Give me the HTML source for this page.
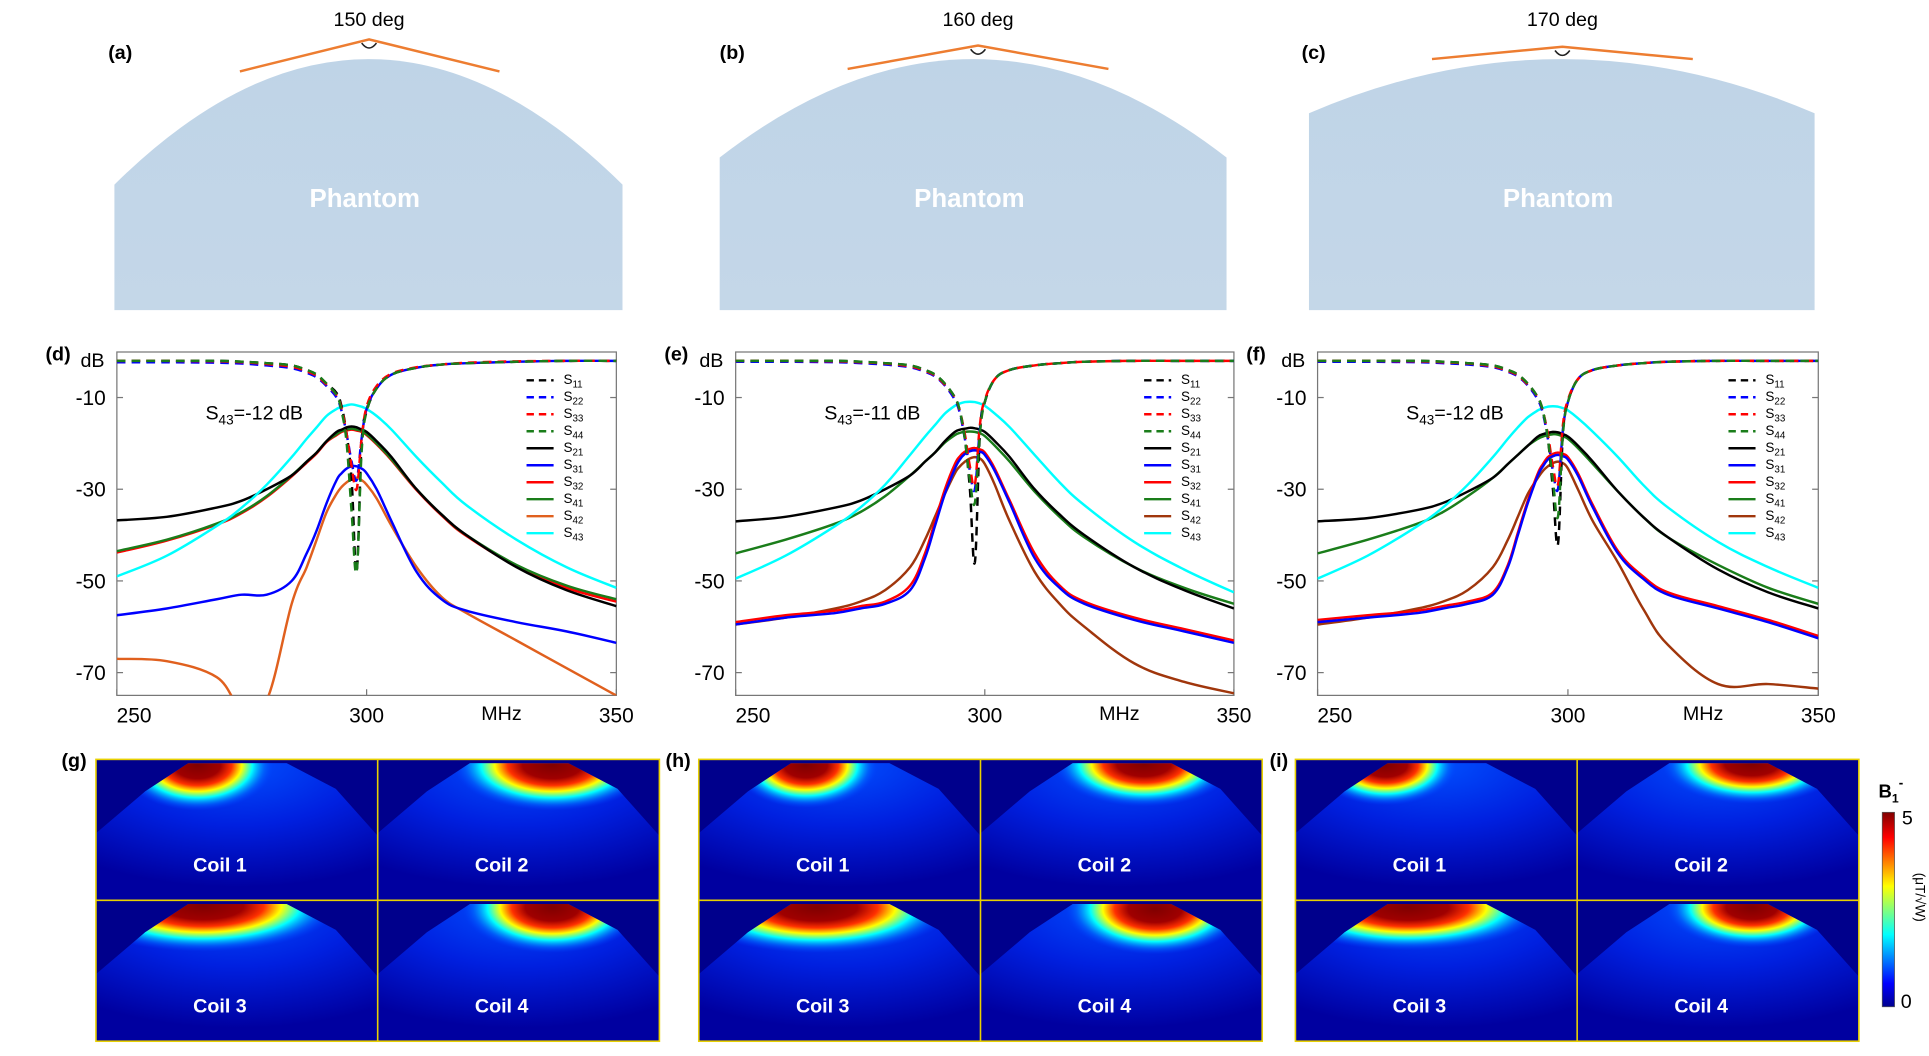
<!DOCTYPE html>
<html><head><meta charset="utf-8">
<style>
html,body{margin:0;padding:0;background:#fff;}
svg{display:block;font-family:"Liberation Sans",sans-serif;}
</style></head>
<body>
<svg id="fig" width="1929" height="1056" viewBox="0 0 1568 858" preserveAspectRatio="none" xmlns="http://www.w3.org/2000/svg">
<defs>
  <linearGradient id="phantomGrad" x1="0" y1="0" x2="0" y2="1">
    <stop offset="0" stop-color="#bfd4e7"/><stop offset="1" stop-color="#c4d7e8"/>
  </linearGradient>
  <linearGradient id="jet" x1="0" y1="1" x2="0" y2="0">
    <stop offset="0" stop-color="#00008f"/><stop offset="0.12" stop-color="#0000ff"/>
    <stop offset="0.37" stop-color="#00ffff"/><stop offset="0.62" stop-color="#ffff00"/>
    <stop offset="0.87" stop-color="#ff0000"/><stop offset="1" stop-color="#800000"/>
  </linearGradient>
  <radialGradient id="fanGrad" cx="0.5" cy="0" r="0.9">
    <stop offset="0" stop-color="#0050ff"/><stop offset="0.5" stop-color="#0020e0"/><stop offset="1" stop-color="#0000a0"/>
  </radialGradient>
  <radialGradient id="hot" cx="0.5" cy="0.5" r="0.5">
    <stop offset="0" stop-color="#800000"/><stop offset="0.3" stop-color="#a00000"/>
    <stop offset="0.45" stop-color="#ff3000"/><stop offset="0.58" stop-color="#ffff00"/>
    <stop offset="0.72" stop-color="#00ffff"/><stop offset="0.88" stop-color="#0070ff" stop-opacity="0.6"/>
    <stop offset="1" stop-color="#0040ff" stop-opacity="0"/>
  </radialGradient>
</defs>
<g id="topPanels"></g>
<g id="charts"></g>
<g id="maps"></g>
</svg>
<script>
// ---------- chart data ----------
const freqs = [250,260,270,275,280,285,288,290,292,294,295,296,297,298,299,300,302,305,310,315,320,330,340,350];
const yTicks = [-10,-30,-50,-70];
const xTicks = [250,300,350];
const legendLabels = ['11','22','33','44','21','31','32','41','42','43'];
const annotations = ['-12','-11','-12'];
const angles = ['150 deg','160 deg','170 deg'];

// panel d
const d_S11 = [-2,-2,-2,-2.2,-2.5,-3,-4,-5,-7,-9,-12,-18,-28,-48,-20,-13,-8,-5,-3.5,-2.8,-2.5,-2.2,-2,-2];
const d_S22 = [-2.3,-2.3,-2.4,-2.6,-3,-3.6,-4.6,-5.6,-7.5,-10,-13,-18,-24,-28,-19,-12.5,-8,-5,-3.5,-2.8,-2.5,-2.2,-2,-2];
const d_S33 = [-2,-2,-2.1,-2.3,-2.7,-3.3,-4.3,-5.3,-7.2,-9.5,-12.5,-18,-25,-30,-19,-12,-7.5,-4.8,-3.4,-2.8,-2.4,-2.1,-2,-2];
const d_S44 = [-2,-2,-2,-2.2,-2.5,-3,-4,-5,-7,-9.5,-13,-20,-35,-48,-22,-13,-8,-5,-3.5,-2.8,-2.5,-2.2,-2,-2];
const d_S21 = [-36.8,-36,-34,-32.5,-30,-27,-24,-22,-19.5,-17.5,-17,-16.5,-16.3,-16.5,-17,-17.5,-19.5,-23,-30,-35.5,-40,-47,-52,-55.5];
const d_S31 = [-57.5,-56,-54,-53,-53,-50,-44,-39,-33,-28,-26.5,-25.5,-25,-25,-25.5,-26.5,-30,-37,-48,-54,-56.5,-59,-61,-63.5];
const d_S32 = [-43.8,-41.2,-37.7,-35.2,-31.7,-27.2,-24.2,-22.2,-19.7,-18.2,-17.5,-17.2,-17,-17.2,-17.5,-18.2,-20.2,-23.7,-30.2,-35.7,-40.2,-46.8,-51.5,-54.5];
const d_S41 = [-43.5,-41,-37.5,-35,-31.5,-27,-24,-22,-19.5,-18,-17.3,-17,-16.8,-17,-17.3,-18,-20,-23.5,-30,-35.5,-40,-46.5,-51,-54];
const d_S42 = [-67,-67.5,-71,-78,-76,-55,-47,-41,-35,-31,-29.5,-28.5,-27.8,-27.5,-28,-29,-32,-38,-47,-53.5,-57,-63,-69,-75];
const d_S43 = [-49,-44.5,-38,-34,-29,-23,-19,-16.5,-14,-12.5,-12,-11.7,-11.5,-11.7,-12,-12.5,-14,-17,-23,-28.5,-33.5,-41,-47,-51.5];

// panel e
const e_S11 = [-2,-2,-2,-2.2,-2.5,-3,-4,-5,-7,-10,-13,-19,-30,-46,-18,-11,-6,-4,-3,-2.5,-2.2,-2,-2,-2];
const e_S22 = [-2.2,-2.2,-2.3,-2.5,-2.8,-3.4,-4.4,-5.4,-7.4,-10.5,-13.5,-19,-26,-30,-17,-11,-6,-4,-3,-2.5,-2.2,-2,-2,-2];
const e_S33 = [-2,-2,-2.1,-2.3,-2.6,-3.2,-4.2,-5.2,-7.2,-10,-13,-18,-25,-29,-16,-10.5,-6,-4,-3,-2.5,-2.2,-2,-2,-2];
const e_S44 = [-2,-2,-2,-2.2,-2.5,-3,-4,-5,-7,-10,-13,-19,-28,-33,-18,-11,-6,-4,-3,-2.5,-2.2,-2,-2,-2];
const e_S21 = [-37,-36,-34,-32.5,-30,-27,-24,-22,-19.5,-17.5,-17,-16.8,-16.6,-16.7,-17,-17.5,-19.5,-23,-30,-35.5,-40,-47,-52,-56];
const e_S31 = [-59.5,-58,-57,-56,-55,-52,-45,-38,-31,-25.5,-23.5,-22.3,-21.7,-21.5,-21.8,-22.5,-26,-33,-45,-51.5,-55,-58.5,-61,-63.5];
const e_S32 = [-59,-57.5,-56.5,-55.5,-54.5,-51,-44,-37,-30,-24.5,-22.8,-21.8,-21.2,-21,-21.3,-22,-25.5,-32.5,-44,-51,-54.5,-58,-60.5,-63];
const e_S41 = [-44,-41,-37.5,-35,-31.5,-27,-24,-22,-19.8,-18.2,-17.7,-17.5,-17.4,-17.5,-17.8,-18.4,-20.5,-24,-30.5,-36,-40.5,-47,-51.5,-55];
const e_S42 = [-59.5,-58,-56,-54.5,-52,-47,-41,-36,-31,-26.5,-25,-24,-23.3,-23,-23.3,-24.5,-29,-37,-48,-55,-60,-68,-72,-74.5];
const e_S43 = [-49.5,-44.5,-38,-34,-29,-22.5,-18.5,-16,-13.5,-11.8,-11.3,-11,-10.9,-11,-11.3,-11.8,-13.5,-16.5,-22.5,-28.5,-33.5,-41.5,-47.5,-52.5];

// panel f
const f_S11 = [-2,-2,-2,-2.2,-2.5,-3,-4,-5,-7,-10,-13,-19,-30,-42,-18,-11,-6,-4,-3,-2.5,-2.2,-2,-2,-2];
const f_S22 = [-2.2,-2.2,-2.3,-2.5,-2.8,-3.4,-4.4,-5.4,-7.4,-10.5,-13.5,-19,-26,-30,-17,-11,-6,-4,-3,-2.5,-2.2,-2,-2,-2];
const f_S33 = [-2,-2,-2.1,-2.3,-2.6,-3.2,-4.2,-5.2,-7.2,-10,-13,-18,-25,-29,-16,-10.5,-6,-4,-3,-2.5,-2.2,-2,-2,-2];
const f_S44 = [-2,-2,-2,-2.2,-2.5,-3,-4,-5,-7,-10,-13,-19,-28,-36,-18,-11,-6,-4,-3,-2.5,-2.2,-2,-2,-2];
const f_S21 = [-37,-36.3,-34.5,-33,-30.5,-27.5,-24.5,-22.5,-20.5,-18.5,-18,-17.7,-17.5,-17.6,-18,-18.5,-20.5,-24,-30.5,-36,-40.5,-47.5,-52.5,-56];
const f_S31 = [-59,-58,-57,-56,-55,-53,-47,-40,-33,-27,-25,-23.5,-22.8,-22.5,-22.8,-23.5,-27,-34,-44,-49.5,-53,-56,-59,-62.5];
const f_S32 = [-58.5,-57.5,-56.5,-55.5,-54.5,-52.5,-46.5,-39.5,-32.5,-26.5,-24.5,-23,-22.3,-22,-22.3,-23,-26.5,-33.5,-43.5,-49,-52.5,-55.5,-58.5,-62];
const f_S41 = [-44,-41,-37.5,-35,-31.5,-27.5,-24.5,-22.5,-20.5,-19,-18.5,-18.2,-18,-18.1,-18.5,-19,-21,-24.5,-30.5,-36,-40.5,-46.5,-51.5,-55];
const f_S42 = [-59.5,-58,-56,-54.5,-52,-47,-41,-36,-31,-27.5,-26,-25,-24.3,-24,-24.3,-25.5,-30,-37,-46,-56,-64,-72.5,-72.5,-73.5];
const f_S43 = [-49.5,-44.5,-38,-34,-29,-23,-19,-16.5,-14.3,-12.8,-12.3,-12,-11.9,-12,-12.3,-12.8,-14.5,-17.5,-23,-29,-34,-41.5,-47,-51.5];

const panels = [
  {id:'d', x0:95, x1:501, s:[d_S11,d_S22,d_S33,d_S44,d_S21,d_S31,d_S32,d_S41,d_S42,d_S43], c42:'#e0601e'},
  {id:'e', x0:598, x1:1003, s:[e_S11,e_S22,e_S33,e_S44,e_S21,e_S31,e_S32,e_S41,e_S42,e_S43], c42:'#a0360c'},
  {id:'f', x0:1071, x1:1478, s:[f_S11,f_S22,f_S33,f_S44,f_S21,f_S31,f_S32,f_S41,f_S42,f_S43], c42:'#a0360c'}
];
const colors = ['#000','#0000ff','#ff0000','#1a7d1a','#000','#0000ff','#ff0000','#1a7d1a',null,'#00ffff'];

const NS='http://www.w3.org/2000/svg';
function mk(tag, attrs, parent, text){
  const e=document.createElementNS(NS,tag);
  for(const k in attrs) e.setAttribute(k,attrs[k]);
  if(text!==undefined) e.textContent=text;
  parent.appendChild(e); return e;
}
function pathFrom(pts){
  let d='M'+pts[0][0].toFixed(1)+','+pts[0][1].toFixed(1);
  for(let i=0;i<pts.length-1;i++){
    const p0=pts[Math.max(0,i-1)],p1=pts[i],p2=pts[i+1],p3=pts[Math.min(pts.length-1,i+2)];
    const t=0.18;
    const c1=[p1[0]+(p2[0]-p0[0])*t,p1[1]+(p2[1]-p0[1])*t];
    const c2=[p2[0]-(p3[0]-p1[0])*t,p2[1]-(p3[1]-p1[1])*t];
    d+=' C'+c1[0].toFixed(1)+','+c1[1].toFixed(1)+' '+c2[0].toFixed(1)+','+c2[1].toFixed(1)+' '+p2[0].toFixed(1)+','+p2[1].toFixed(1);
  }
  return d;
}

// ---------- top phantom panels ----------
const topG=document.getElementById('topPanels');
const phant=[
  {x0:93,x1:506,side:150,c:-54,lab:'(a)',lx:88,line:[[195,58],[300,32],[406,58]]},
  {x0:585,x1:997,side:128,c:-32,lab:'(b)',lx:585,line:[[689,56],[795,37],[901,56]]},
  {x0:1064,x1:1475,side:92,c:4,lab:'(c)',lx:1058,line:[[1164,48],[1270,38],[1376,48]]}
];
phant.forEach((p,i)=>{
  const g=mk('g',{},topG);
  
  
  const mx=(p.x0+p.x1)/2;
  const sh=mk('path',{d:`M${p.x0},252 L${p.x0},${p.side} Q${mx},${p.c} ${p.x1},${p.side} L${p.x1},252 Z`,fill:'url(#phantomGrad)'},g);
  
  
  const t=mk('text',{x:mx-3,y:168,'text-anchor':'middle','font-size':21,'font-weight':'bold',fill:'#fff'},g,'Phantom');
  
  
  const l=mk('polyline',{points:p.line.map(q=>q.join(',')).join(' '),fill:'none',stroke:'#ed7d31','stroke-width':2},g);
  
  
  const ap=p.line[1];
  mk('path',{d:`M${ap[0]-6},${ap[1]+3} Q${ap[0]},${ap[1]+11} ${ap[0]+6},${ap[1]+3}`,fill:'none',stroke:'#222','stroke-width':1.3},g);
  const at=mk('text',{x:ap[0],y:21,'text-anchor':'middle','font-size':16},g,angles[i]);
  
  
  const pl=mk('text',{x:p.lx,y:48,'font-size':16,'font-weight':'bold'},g,p.lab);
  
  
});

// ---------- charts ----------
const chartsG=document.getElementById('charts');
const Y0=286,Y1=565;
const yScale=v=>323+(-10-v)*(74.5/20);
panels.forEach((P,pi)=>{
  const xScale=f=>P.x0+(f-250)*(P.x1-P.x0)/100;
  const g=mk('g',{},chartsG);
  
  
  mk('clipPath',{id:'clip'+P.id},g);
  mk('rect',{x:P.x0,y:Y0,width:P.x1-P.x0,height:Y1-Y0},g.lastChild);
  const frame=mk('rect',{x:P.x0,y:Y0,width:P.x1-P.x0,height:Y1-Y0,fill:'none',stroke:'#777','stroke-width':1},g);
  
  
  yTicks.forEach(v=>{
    const y=yScale(v);
    mk('line',{x1:P.x0,x2:P.x0+5,y1:y,y2:y,stroke:'#777'},g);
    mk('line',{x1:P.x1,x2:P.x1-5,y1:y,y2:y,stroke:'#777'},g);
    const t=mk('text',{x:P.x0-9,y:y+6,'text-anchor':'end','font-size':17},g,String(v));
    
    
  });
  xTicks.forEach((v,i)=>{
    const x=xScale(v);
    mk('line',{x1:x,x2:x,y1:Y1,y2:Y1-5,stroke:'#777'},g);
    const t=mk('text',{x:x+(i===0?14:0),y:587,'text-anchor':'middle','font-size':17},g,String(v));
    
    
  });
  const mhz=mk('text',{x:xScale(327),y:585,'text-anchor':'middle','font-size':16},g,'MHz');
  
  
  const db=mk('text',{x:P.x0-10,y:298,'text-anchor':'end','font-size':16},g,'dB');
  
  
  const pl=mk('text',{x:P.x0-58,y:293,'font-size':16,'font-weight':'bold'},g,'('+P.id+')');
  
  
  const an=mk('text',{x:P.x0+72,y:341,'font-size':16},g);
  
  
  an.appendChild(document.createTextNode('S'));
  mk('tspan',{'font-size':11,dy:4},an,'43');
  mk('tspan',{dy:-4},an,'='+annotations[pi]+' dB');
  const cg=mk('g',{'clip-path':`url(#clip${P.id})`},g);
  const order=[8,6,7,5,4,9,0,1,2,3];
  order.forEach(k=>{
    const vals=P.s[k];
    const pts=freqs.map((f,i)=>[xScale(f),yScale(vals[i])]);
    const col=k===8?P.c42:colors[k];
    const attrs={d:pathFrom(pts),fill:'none',stroke:col,'stroke-width':2};
    if(k<4) attrs['stroke-dasharray']='7,5';
    const ln=mk('path',attrs,cg);
    
    
  });
  const lx=P.x1-73;
  legendLabels.forEach((lab,k)=>{
    const y=309+k*13.8;
    const lg=mk('g',{},g);
    
    
    const col=k===8?P.c42:colors[k];
    const a={x1:lx,x2:lx+22,y1:y,y2:y,stroke:col,'stroke-width':2};
    if(k<4) a['stroke-dasharray']='6,4';
    mk('line',a,lg);
    const t=mk('text',{x:lx+30,y:y+3,'font-size':11},lg,'S');
    mk('tspan',{'font-size':8,dy:3},t,lab);
  });
});

// ---------- field maps ----------
const mapsG=document.getElementById('maps');
const groups=[
  {id:'g',x:78,lx:50,blobs:[[[0.36,0.04,0.17,0.17]],[[0.62,0.04,0.22,0.17]],[[0.38,0.04,0.3,0.17]],[[0.62,0.05,0.2,0.17]]]},
  {id:'h',x:568,lx:541,blobs:[[[0.38,0.04,0.16,0.16]],[[0.58,0.03,0.2,0.16]],[[0.42,0.05,0.3,0.17]],[[0.62,0.06,0.2,0.17]]]},
  {id:'i',x:1053,lx:1032,blobs:[[[0.32,0.04,0.16,0.15]],[[0.62,0.03,0.2,0.15]],[[0.4,0.05,0.3,0.16]],[[0.62,0.05,0.19,0.15]]]}
];
const cellW=229,cellH=114.5,topY=617;
const fanD='M40,26 L75,3 L155,3 L195,24 L229,62 L229,115 L0,115 L0,60 Z';
groups.forEach(G=>{
  const g=mk('g',{},mapsG);
  
  
  const pl=mk('text',{x:G.lx,y:topY+6,'font-size':16,'font-weight':'bold'},g,'('+G.id+')');
  
  
  for(let c=0;c<4;c++){
    const cx=G.x+(c%2)*cellW, cy=topY+Math.floor(c/2)*cellH;
    const cg=mk('g',{transform:`translate(${cx},${cy})`},g);
    
    
    const cid='fan'+G.id+c;
    mk('clipPath',{id:cid},cg);
    mk('path',{d:fanD},cg.lastChild);
    mk('rect',{x:0,y:0,width:cellW,height:cellH,fill:'#00008c'},cg);
    mk('path',{d:fanD,fill:'url(#fanGrad)'},cg);
    const bg=mk('g',{'clip-path':`url(#${cid})`},cg);
    G.blobs[c].forEach(b=>{
      mk('ellipse',{cx:b[0]*cellW,cy:b[1]*cellH,rx:b[2]*cellW*1.6,ry:b[3]*cellH*1.9,fill:'url(#hot)'},bg);
    });
    const t=mk('text',{x:cellW*0.44,y:91,'text-anchor':'middle','font-size':16,'font-weight':'bold',fill:'#fff'},cg,'Coil '+(c+1));
    
    
  }
  mk('rect',{x:G.x,y:topY,width:cellW*2,height:cellH*2,fill:'none',stroke:'#e8d000','stroke-width':1.3},g);
  mk('line',{x1:G.x+cellW,x2:G.x+cellW,y1:topY,y2:topY+cellH*2,stroke:'#e8d000','stroke-width':1.3},g);
  mk('line',{x1:G.x,x2:G.x+cellW*2,y1:topY+cellH,y2:topY+cellH,stroke:'#e8d000','stroke-width':1.3},g);
});
const cb=mk('g',{},mapsG);


mk('rect',{x:1530,y:660,width:10,height:158,fill:'url(#jet)',stroke:'#555','stroke-width':0.6},cb);
const b1=mk('text',{x:1527,y:648,'font-size':15,'font-weight':'bold'},cb,'B');
mk('tspan',{'font-size':10,dy:4},b1,'1');
mk('tspan',{'font-size':11,dy:-12},b1,'-');
mk('text',{x:1546,y:670,'font-size':16},cb,'5');
mk('text',{x:1545,y:819,'font-size':16},cb,'0');
mk('text',{x:0,y:0,'font-size':11,transform:'translate(1557,729) rotate(90)','text-anchor':'middle'},cb,'(μT/√W)');
</script>
</body></html>
